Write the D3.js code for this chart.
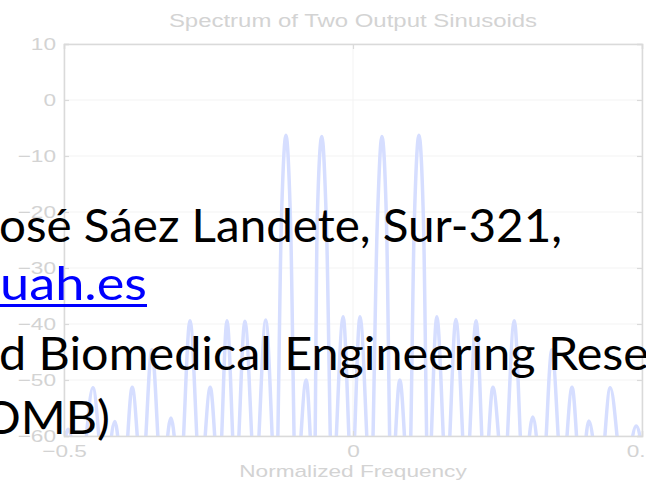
<!DOCTYPE html>
<html lang="en">
<head>
<meta charset="UTF-8">
<title>Spectrum of Two Output Sinusoids</title>
<script src="https://d3js.org/d3.v7.min.js"></script>
<style>
    body{ margin:0; background:#fff; overflow:hidden; }
    .chart text{ font-family:"Liberation Sans", Arial, sans-serif; fill:#d3d3d3; }
    .axis path, .axis line{ stroke:#dadada; }
    .slide{ font-family:Lato, "Open Sans", sans-serif; font-size:47px; }
</style>
</head>
<body>
<svg width="646" height="484"></svg>
<script>
    // spectrum: peaks, shoulders of the main lobes and nulls (dB)
    let freq = [-0.5, -0.493, -0.472, -0.450, -0.430, -0.412, -0.397, -0.382, -0.365, -0.348,
        -0.331, -0.315, -0.299, -0.282, -0.264, -0.247, -0.232, -0.218, -0.203, -0.187,
        -0.169, -0.151, -0.133, -0.124, -0.116, -0.108, -0.099, -0.081, -0.067, -0.062,
        -0.054, -0.046, -0.036, -0.017, -0.002, 0.012, 0.031, 0.042, 0.050, 0.058,
        0.066, 0.081, 0.097, 0.106, 0.114, 0.122, 0.130, 0.145, 0.162, 0.178,
        0.196, 0.213, 0.228, 0.242, 0.261, 0.279, 0.295, 0.311, 0.328, 0.344,
        0.362, 0.379, 0.394, 0.408, 0.427, 0.445, 0.468, 0.490, 0.5];
    let power = [-62, -58.8, -68, -51.4, -68, -57.4, -68, -51.3, -68, -44.6,
        -68, -56.8, -68, -39.4, -68, -51.3, -68, -39.4, -68, -39.5,
        -68, -39.3, -70, -22, -6.3, -22, -70, -50, -70, -22,
        -6.5, -22, -70, -38.7, -68, -38.7, -70, -22, -6.5, -22,
        -70, -50, -70, -22, -6.3, -22, -70, -38.7, -68, -39.2,
        -68, -39.4, -68, -51.3, -68, -39.4, -68, -56.6, -68, -44.6,
        -68, -51.3, -68, -57.3, -68, -51.4, -68, -58.2, -62];
    let xTicks = [-0.5, 0, 0.5];
    let yTicks = [10, 0, -10, -20, -30, -40, -50, -60];
    let title = 'Spectrum of Two Output Sinusoids';
    let xLabel = 'Normalized Frequency';

    // slide text lying over the figure
    let slideLines = [
        {text:'osé Sáez Landete, Sur-321,', x:-1, y:242, len:563, color:'#000'},
        {text:'uah.es', x:0, y:300, len:147, color:'#0000ff', underline:true},
        {text:'d Biomedical Engineering Rese', x:-1, y:370, len:650, color:'#000'},
        {text:'OMB)', x:-18, y:434, len:128, color:'#000'}
    ];

    let svg = d3.select('svg');
    let box = {left:64, right:642, top:44, bottom:436};
    let stretch = 1.33;

    let xScale = d3.scaleLinear().domain([-0.5, 0.5]).range([box.left, box.right]);
    let yScale = d3.scaleLinear().domain([-60, 10]).range([box.bottom, box.top]);

    let chart = svg.append('g').attr('class', 'chart');

    // widen text the way the stretched figure does
    function widen(sel){
        sel.each(function(){
            let w = this.getComputedTextLength();
            d3.select(this).attr('textLength', w * stretch).attr('lengthAdjust', 'spacingAndGlyphs');
        });
    }

    // grid
    chart.append('g').selectAll('line').data(yTicks).join('line')
        .attr('x1', box.left).attr('x2', box.right)
        .attr('y1', d => yScale(d)).attr('y2', d => yScale(d))
        .attr('stroke', '#f3f3f3');
    chart.append('g').selectAll('line').data(xTicks).join('line')
        .attr('y1', box.top).attr('y2', box.bottom)
        .attr('x1', d => xScale(d)).attr('x2', d => xScale(d))
        .attr('stroke', '#f3f3f3');

    // spectrum line
    svg.append('clipPath').attr('id', 'plot-clip').append('rect')
        .attr('x', box.left).attr('y', box.top)
        .attr('width', box.right - box.left).attr('height', box.bottom - box.top);
    let line = d3.line()
        .x((d, i) => xScale(freq[i]))
        .y(d => yScale(d))
        .curve(d3.curveMonotoneX);
    chart.append('path').datum(power)
        .attr('clip-path', 'url(#plot-clip)')
        .attr('d', line)
        .attr('fill', 'none')
        .attr('stroke', '#d6deff')
        .attr('stroke-width', 3.5)
        .attr('stroke-linejoin', 'round');

    // axes, ticks inside like matlab
    let xAxis = chart.append('g').attr('class', 'axis')
        .attr('transform', 'translate(0,' + box.bottom + ')')
        .call(d3.axisBottom(xScale).tickValues(xTicks).tickSize(-5).tickPadding(9).tickFormat(d3.format('')));
    chart.append('g').attr('class', 'axis')
        .attr('transform', 'translate(0,' + box.top + ')')
        .call(d3.axisTop(xScale).tickValues(xTicks).tickSize(-5).tickFormat(''));
    let yAxis = chart.append('g').attr('class', 'axis')
        .attr('transform', 'translate(' + box.left + ',0)')
        .call(d3.axisLeft(yScale).tickValues(yTicks).tickSize(-5).tickPadding(8));
    chart.append('g').attr('class', 'axis')
        .attr('transform', 'translate(' + box.right + ',0)')
        .call(d3.axisRight(yScale).tickValues(yTicks).tickSize(-5).tickFormat(''));
    chart.selectAll('.axis path').attr('stroke-width', 1.5);
    chart.selectAll('.axis line').attr('stroke-width', 1.2);
    chart.selectAll('.axis text').attr('font-size', 17).attr('fill', '#d3d3d3')
        .attr('font-family', '"Liberation Sans", Arial, sans-serif');
    xAxis.selectAll('text').attr('dy', '0.71em');
    widen(chart.selectAll('.axis text'));

    chart.append('text').attr('x', xScale(0)).attr('y', 27)
        .attr('text-anchor', 'middle').attr('font-size', 18)
        .text(title).call(widen);
    chart.append('text').attr('x', xScale(0)).attr('y', 477)
        .attr('text-anchor', 'middle').attr('font-size', 17)
        .text(xLabel).call(widen);

    // slide text on top
    let slide = svg.append('g').attr('class', 'slide');
    slideLines.forEach(function(l){
        slide.append('text').attr('x', l.x).attr('y', l.y)
            .attr('fill', l.color)
            .attr('textLength', l.len).attr('lengthAdjust', 'spacingAndGlyphs')
            .text(l.text);
        if(l.underline){
            slide.append('rect').attr('x', l.x).attr('y', l.y + 4)
                .attr('width', l.len).attr('height', 3).attr('fill', l.color);
        }
    });
</script>
</body>
</html>
